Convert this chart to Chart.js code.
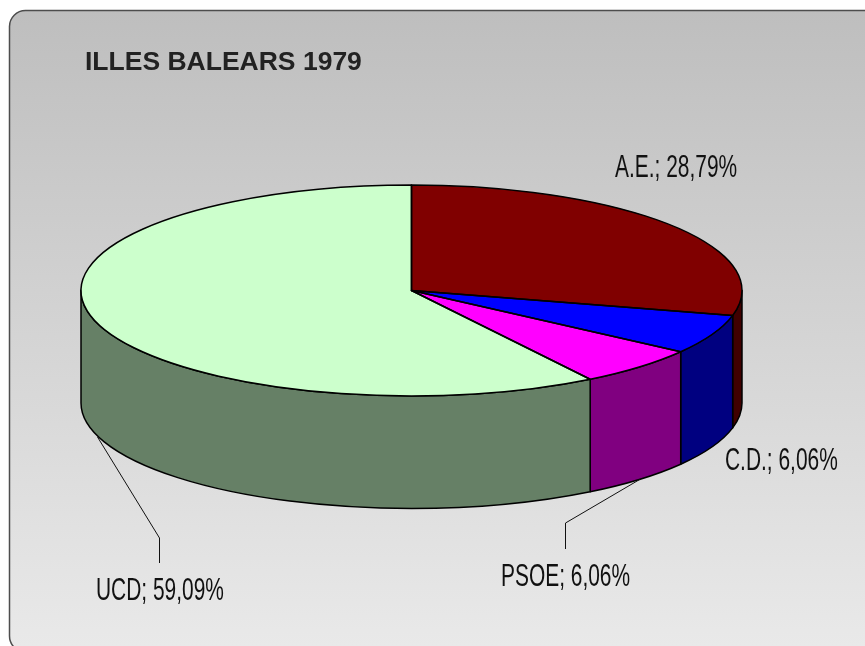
<!DOCTYPE html>
<html>
<head>
<meta charset="utf-8">
<style>html,body{margin:0;padding:0;background:#fff}canvas{display:block}</style>
<script src="https://cdn.jsdelivr.net/npm/chart.js@4/dist/chart.umd.min.js"></script>
</head>
<body>
<canvas id="c" width="865" height="646"></canvas>
<script>
const titleText = 'ILLES BALEARS 1979';
const categories = ['A.E.', 'C.D.', 'PSOE', 'UCD'];
const shares = [28.79, 6.06, 6.06, 59.09];
const topColors = ['#800000', '#0000ff', '#ff00ff', '#ccffcc'];
const wallColors = ['#400000', '#000080', '#800080', '#668066'];
const labelPlaces = [[615, 177], [725, 470], [501, 586], [96, 600]];
const leaderLines = [null, null, [[640, 479], [565, 523], [565, 549]], [[97, 437], [159, 538], [159, 563]]];

const RX = 330.5, RY = 105.5, DEPTH = 112.5;
const squash = RY / RX;

function slices(chart) {
  return chart.getDatasetMeta(0).data.map(a => a.getProps(['x', 'y', 'startAngle', 'endAngle', 'outerRadius'], true));
}
function sectorPath(ctx, s) {
  ctx.beginPath();
  ctx.moveTo(s.x, s.y);
  ctx.ellipse(s.x, s.y, RX, RY, 0, s.startAngle, s.endAngle);
  ctx.closePath();
}
const pie3d = {
  id: 'pie3d',
  beforeDraw(chart) {
    const ctx = chart.ctx;
    ctx.save();
    const g = ctx.createLinearGradient(0, 11, 0, 646);
    g.addColorStop(0, '#bebebe');
    g.addColorStop(1, '#e9e9e9');
    ctx.fillStyle = g;
    ctx.strokeStyle = '#4d4d4d';
    ctx.lineWidth = 1.5;
    ctx.beginPath();
    ctx.roundRect(9.5, 10.5, 880, 641.5, 16);
    ctx.fill();
    ctx.stroke();
    ctx.restore();
  },
  beforeDatasetsDraw(chart) {
    const ctx = chart.ctx;
    const list = slices(chart);
    ctx.save();
    ctx.lineWidth = 1.5;
    ctx.strokeStyle = '#000';
    ctx.lineJoin = 'round';
    // side walls, back to front: only the part on the front half of the rim shows
    list.forEach((s, i) => {
      const a0 = Math.max(s.startAngle, 0), a1 = Math.min(s.endAngle, Math.PI);
      if (a1 <= a0) return;
      ctx.beginPath();
      ctx.ellipse(s.x, s.y, RX, RY, 0, a0, a1);
      ctx.ellipse(s.x, s.y + DEPTH, RX, RY, 0, a1, a0, true);
      ctx.closePath();
      ctx.fillStyle = wallColors[i];
      ctx.fill();
      ctx.stroke();
    });
    ctx.restore();
    // the library's arcs are drawn squashed into an ellipse
    const cy = list[0].y;
    ctx.save();
    ctx.translate(0, cy);
    ctx.scale(1, squash);
    ctx.translate(0, -cy);
  },
  afterDatasetsDraw(chart) {
    const ctx = chart.ctx;
    ctx.restore();
    const list = slices(chart);
    ctx.save();
    ctx.lineWidth = 1.5;
    ctx.strokeStyle = '#000';
    ctx.lineJoin = 'round';
    list.forEach(s => { sectorPath(ctx, s); ctx.stroke(); });
    ctx.lineWidth = 1;
    ctx.strokeStyle = '#111';
    leaderLines.forEach(pts => {
      if (!pts) return;
      ctx.beginPath();
      pts.forEach((p, j) => j ? ctx.lineTo(p[0] + 0.5, p[1]) : ctx.moveTo(p[0] + 0.5, p[1]));
      ctx.stroke();
    });
    ctx.fillStyle = '#111';
    ctx.font = '31px "Liberation Sans", Arial, sans-serif';
    ctx.textBaseline = 'alphabetic';
    ctx.textAlign = 'left';
    categories.forEach((c, i) => {
      const txt = c + '; ' + shares[i].toFixed(2).replace('.', ',') + '%';
      ctx.save();
      ctx.translate(labelPlaces[i][0], labelPlaces[i][1]);
      ctx.scale(0.675, 1);
      ctx.fillText(txt, 0, 0);
      ctx.restore();
    });
    ctx.restore();
  }
};

new Chart(document.getElementById('c'), {
  type: 'pie',
  data: {
    labels: categories,
    datasets: [{ data: shares, backgroundColor: topColors, borderWidth: 0, clip: false }]
  },
  options: {
    responsive: false,
    animation: false,
    radius: RX,
    events: [],
    layout: { padding: { left: 85, right: 127, top: 47, bottom: 143.8 } },
    plugins: {
      legend: { display: false },
      tooltip: { enabled: false },
      title: {
        display: true,
        text: titleText,
        align: 'start',
        color: '#222',
        padding: 0,
        font: { family: '"Liberation Sans", Arial, sans-serif', size: 26.5, weight: 'bold' }
      }
    }
  },
  plugins: [pie3d]
});
</script>
</body>
</html>
